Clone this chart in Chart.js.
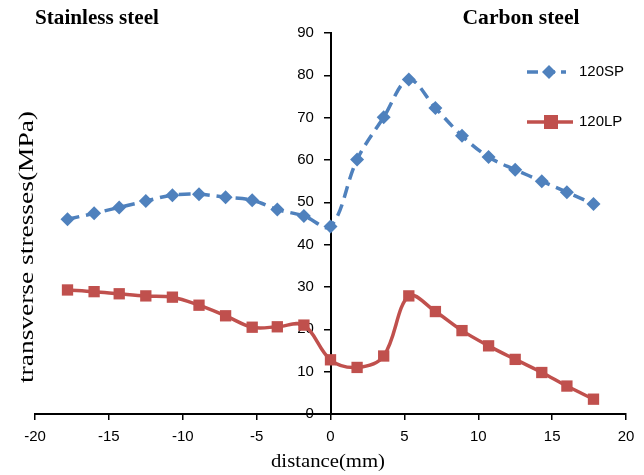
<!DOCTYPE html>
<html>
<head>
<meta charset="utf-8">
<script src="https://cdn.jsdelivr.net/npm/chart.js@4.4.1/dist/chart.umd.min.js"></script>
<style>
  html, body { margin: 0; padding: 0; background: #fff; }
  #wrap { width: 644px; height: 475px; }
</style>
</head>
<body>
<div id="wrap"><canvas id="chart" width="644" height="475"></canvas></div>
<script>
// ---- data ----
const distances = [-17.8, -16.0, -14.3, -12.5, -10.7, -8.9, -7.1, -5.3, -3.6, -1.8, 0,
                   1.8, 3.6, 5.3, 7.1, 8.9, 10.7, 12.5, 14.3, 16.0, 17.8];
const sp120 = [46.0, 47.4, 48.8, 50.3, 51.7, 51.9, 51.2, 50.5, 48.3, 46.8, 44.3,
               60.1, 70.1, 79.0, 72.3, 65.7, 60.7, 57.7, 55.0, 52.4, 49.6];
const lp120 = [29.3, 28.9, 28.4, 27.9, 27.6, 25.7, 23.2, 20.5, 20.6, 21.0, 12.8,
               11.0, 13.7, 27.9, 24.2, 19.7, 16.1, 12.9, 9.8, 6.6, 3.5];
const xTicks = [-20, -15, -10, -5, 0, 5, 10, 15, 20];
const yTicks = [0, 10, 20, 30, 40, 50, 60, 70, 80, 90];

const BLUE = "#4F81BD";
const RED = "#C0504D";
const TICK_FONT = '"Liberation Sans", Arial, sans-serif';
const SERIF = '"Liberation Serif", "DejaVu Serif", serif';

function toPoints(ys) {
  return distances.map((x, i) => ({ x, y: ys[i] }));
}

// draw text stretched to a given width (the reference text is a bit wide)
function fitText(ctx, text, cx, cy, width) {
  const w = ctx.measureText(text).width;
  ctx.save();
  ctx.translate(cx, cy);
  ctx.scale(width / w, 1);
  ctx.textAlign = "center";
  ctx.textBaseline = "middle";
  ctx.fillText(text, 0, 0);
  ctx.restore();
}

// titles, axis titles and the legend that sits inside the plot
const decorations = {
  id: "decorations",
  afterDraw(chart) {
    const ctx = chart.ctx;
    ctx.save();
    ctx.fillStyle = "#000";
    ctx.font = "bold 20px " + SERIF;
    fitText(ctx, "Stainless steel", 97, 19, 124);
    fitText(ctx, "Carbon steel", 521, 19, 117);

    ctx.font = "19px " + SERIF;
    fitText(ctx, "distance(mm)", 328, 462, 114);

    ctx.save();
    ctx.translate(27, 247);
    ctx.rotate(-Math.PI / 2);
    ctx.font = "21px " + SERIF;
    fitText(ctx, "transverse stresses(MPa)", 0, 0, 272);
    ctx.restore();
    ctx.restore();

    // legend
    const items = [
      { label: "120SP", color: BLUE, dash: [11, 6], style: "diamond", y: 72, x1: 527, x2: 566, mx: 549 },
      { label: "120LP", color: RED, dash: [], style: "square", y: 122, x1: 527, x2: 573, mx: 551 },
    ];
    items.forEach((it) => {
      ctx.save();
      ctx.strokeStyle = it.color;
      ctx.lineWidth = 3.5;
      ctx.setLineDash(it.dash);
      ctx.beginPath();
      ctx.moveTo(it.x1, it.y);
      ctx.lineTo(it.x2, it.y);
      ctx.stroke();
      ctx.setLineDash([]);
      ctx.fillStyle = it.color;
      if (it.style === "diamond") {
        ctx.beginPath();
        ctx.moveTo(it.mx, it.y - 7);
        ctx.lineTo(it.mx + 7, it.y);
        ctx.lineTo(it.mx, it.y + 7);
        ctx.lineTo(it.mx - 7, it.y);
        ctx.closePath();
        ctx.fill();
      } else {
        ctx.fillRect(it.mx - 7, it.y - 7, 14, 14);
      }
      ctx.fillStyle = "#000";
      ctx.font = "15px " + TICK_FONT;
      ctx.textAlign = "left";
      ctx.textBaseline = "middle";
      ctx.fillText(it.label, 579, it.y);
      ctx.restore();
    });
  },
};

new Chart(document.getElementById("chart"), {
  type: "line",
  data: {
    datasets: [
      {
        label: "120SP",
        data: toPoints(sp120),
        borderColor: BLUE,
        backgroundColor: BLUE,
        borderWidth: 3.5,
        borderDash: [12, 7],
        pointStyle: "rectRot",
        pointRadius: 7,
        pointBorderWidth: 0,
        tension: 0.35,
      },
      {
        label: "120LP",
        data: toPoints(lp120),
        borderColor: RED,
        backgroundColor: RED,
        borderWidth: 3.5,
        pointStyle: "rect",
        pointRadius: 8,
        pointBorderWidth: 0,
        tension: 0.35,
      },
    ],
  },
  options: {
    responsive: false,
    animation: false,
    layout: { padding: { left: 35, right: 18, top: 33, bottom: 0 } },
    plugins: {
      legend: { display: false },
      tooltip: { enabled: false },
    },
    scales: {
      x: {
        type: "linear",
        min: -20,
        max: 20,
        afterBuildTicks: (scale) => { scale.ticks = xTicks.map((v) => ({ value: v })); },
        afterFit: (scale) => { scale.height = 61; },
        border: { color: "#000", width: 2 },
        grid: { drawOnChartArea: false, drawTicks: true, tickLength: 6, color: "#000", lineWidth: 1.5 },
        ticks: { color: "#000", font: { family: TICK_FONT, size: 15 }, padding: 8, maxRotation: 0 },
      },
      y: {
        position: { x: 0 },
        min: 0,
        max: 90,
        afterBuildTicks: (scale) => { scale.ticks = yTicks.map((v) => ({ value: v })); },
        border: { color: "#000", width: 2 },
        grid: { drawOnChartArea: false, drawTicks: true, tickLength: 6, color: "#000", lineWidth: 1.5 },
        // labels sit on the left of the centred axis
        ticks: { color: "#000", font: { family: TICK_FONT, size: 15 }, callback: (v) => v + "    " },
      },
    },
  },
  plugins: [decorations],
});
</script>
</body>
</html>
